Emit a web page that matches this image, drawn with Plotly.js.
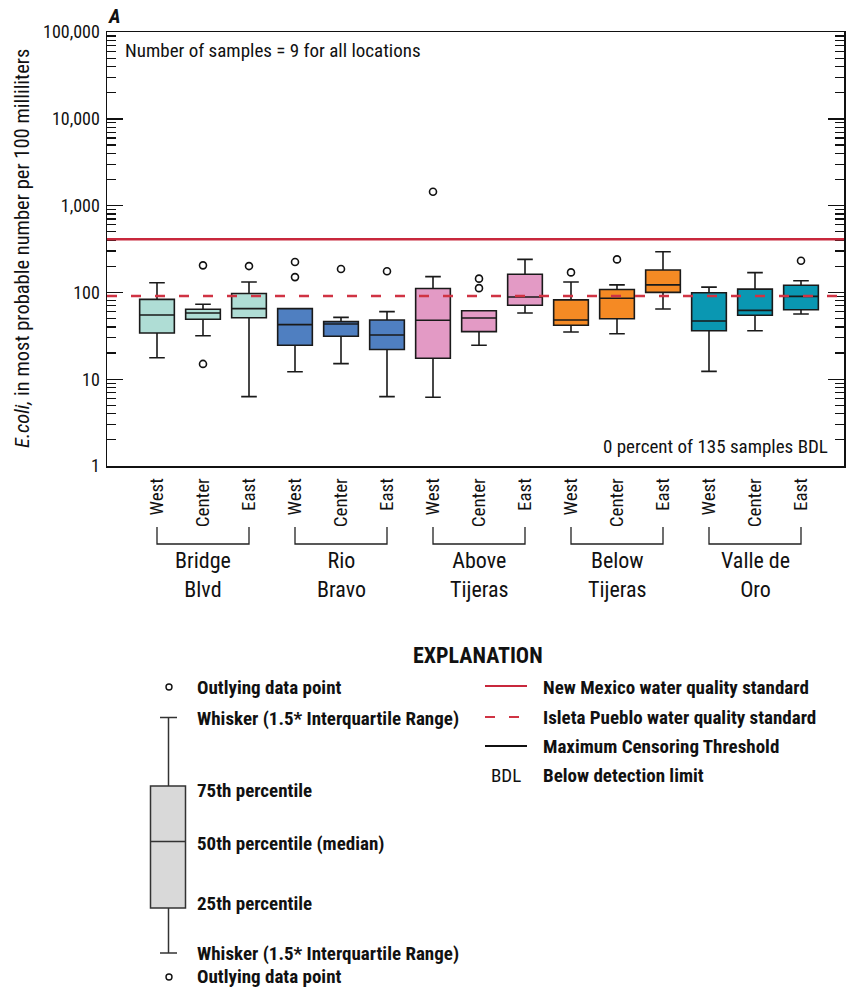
<!DOCTYPE html>
<html>
<head>
<meta charset="utf-8">
<script src="https://cdn.plot.ly/plotly-3.0.1.min.js"></script>
<style>
  html, body { margin: 0; padding: 0; background: #fff; }
  #chart { width: 846px; height: 990px; }
</style>
</head>
<body>
<div id="chart"></div>
<script>
// E. coli concentrations by sampling location and transect position
const sites = ['Bridge<br>Blvd', 'Rio<br>Bravo', 'Above<br>Tijeras', 'Below<br>Tijeras', 'Valle de<br>Oro'];
const positions = ['West', 'Center', 'East'];
const siteColors = ['#afddd5', '#4f7fc1', '#e39ac5', '#f58a24', '#0a97b2'];

// Box statistics, one entry per site/position (West, Center, East for each site)
const lowerWhisker = [17.7, 31.7, 6.3,  12.2, 15.1, 6.3,  6.2,  24.6, 58,   35,  33.4, 64.4,  12.3, 36.2, 56.4];
const q1Values     = [34,   49,   51,   24.6, 31.2, 22,   17.4, 35.3, 71,   41.8, 49.8, 100,  36.2, 54.5, 63];
const medianValues = [55,   58,   65,   42.5, 43.3, 32.3, 47.7, 50.7, 88.5, 48,  85.5, 122,   46.9, 62,   90];
const q3Values     = [83,   64,   97,   65,   46,   48,   111,  61.5, 162,  82,  108,  181,   99,   109,  121];
const upperWhisker = [129,  73,   132,  65,   51.6, 60,   152,  61.5, 240,  132, 122,  294,   115,  169,  136];

// Outlying data points: location index and value
const outlierIndex = [1,   1,  2,   3,   3,   4,   5,   6,    7,   7,   9,   10,  14];
const outlierValue = [205, 15, 201, 224, 150, 186, 175, 1446, 144, 112, 170, 240, 232];

// Water quality standards
const NM_STANDARD = 410;
const ISLETA_STANDARD = 91;

const yTickVals = [1, 10, 100, 1000, 10000, 100000];
const yTickText = ['1', '10', '100', '1,000', '10,000', '100,000'];

const FONT = 'Liberation Sans Narrow, Roboto Condensed, DejaVu Sans Condensed, Arial Narrow, sans-serif';

// Plot geometry (pixels)
const W = 846, H = 990;
const M = { l: 107, r: 2, t: 32, b: 524 };
const PW = W - M.l - M.r, PH = H - M.t - M.b;
const px = x => (x - M.l) / PW;
const py = y => (H - M.b - y) / PH;

const nLoc = sites.length * positions.length;
const locIdx = Array.from({ length: nLoc }, (_, i) => i);
const tickText = locIdx.map(i => positions[i % 3]);

const traces = sites.map((s, g) => {
  const idx = [3 * g, 3 * g + 1, 3 * g + 2];
  return {
    type: 'box',
    x: idx,
    q1: idx.map(i => q1Values[i]),
    median: idx.map(i => medianValues[i]),
    q3: idx.map(i => q3Values[i]),
    lowerfence: idx.map(i => lowerWhisker[i]),
    upperfence: idx.map(i => upperWhisker[i]),
    boxpoints: false,
    width: 0.754,
    whiskerwidth: 0.45,
    fillcolor: siteColors[g],
    line: { color: '#1a1a1a', width: 1.6 },
    hoverinfo: 'skip',
    showlegend: false
  };
});

traces.push({
  type: 'scatter',
  mode: 'markers',
  x: outlierIndex,
  y: outlierValue,
  marker: { symbol: 'circle-open', size: 7, color: '#111', line: { width: 1.6, color: '#111' } },
  hoverinfo: 'skip',
  showlegend: false
});

const shapes = [];
const annotations = [];

// Standards lines
shapes.push({ type: 'line', xref: 'paper', yref: 'y', x0: 0, x1: 1,
  y0: NM_STANDARD, y1: NM_STANDARD,
  line: { color: '#c8283c', width: 2.5 } });
shapes.push({ type: 'line', xref: 'paper', yref: 'y', x0: 0, x1: 1,
  y0: ISLETA_STANDARD, y1: ISLETA_STANDARD,
  line: { color: '#d03343', width: 2.5, dash: '10px,14px' } });

// Site brackets and names under the position labels
sites.forEach((s, g) => {
  const a = 3 * g, b = 3 * g + 2;
  shapes.push({ type: 'path', xref: 'x', yref: 'paper',
    path: `M ${a} ${py(527)} L ${a} ${py(544)} L ${b} ${py(544)} L ${b} ${py(527)}`,
    line: { color: '#222', width: 1.3 } });
  annotations.push({ xref: 'x', yref: 'paper', x: 3 * g + 1, y: py(546), yanchor: 'top',
    text: s, showarrow: false, align: 'center',
    font: { family: FONT, size: 22, color: '#111' } });
});

// Panel letter and notes
annotations.push({ xref: 'paper', yref: 'paper', x: px(106), y: py(16), xanchor: 'left', yanchor: 'middle',
  text: '<b><i>A</i></b>', showarrow: false, font: { family: FONT, size: 20, color: '#111' } });
annotations.push({ xref: 'paper', yref: 'paper', x: px(123), y: py(51), xanchor: 'left', yanchor: 'middle',
  text: 'Number of samples = 9 for all locations', showarrow: false,
  font: { family: FONT, size: 19, color: '#111' } });
annotations.push({ xref: 'paper', yref: 'paper', x: px(830), y: py(446), xanchor: 'right', yanchor: 'middle',
  text: '0 percent of 135 samples BDL', showarrow: false,
  font: { family: FONT, size: 19, color: '#111' } });

// Y axis title
annotations.push({ xref: 'paper', yref: 'paper', x: px(22), y: py(249), xanchor: 'center', yanchor: 'middle',
  textangle: -90, showarrow: false,
  text: '<i>E.coli,</i> in most probable number per 100 milliliters',
  font: { family: FONT, size: 20.5, color: '#111' } });

// Explanation
const legFont = { family: FONT, size: 19, color: '#111' };
const legText = (x, y, t) => annotations.push({ xref: 'paper', yref: 'paper',
  x: px(x), y: py(y), xanchor: 'left', yanchor: 'middle', text: t, showarrow: false, font: legFont });

annotations.push({ xref: 'paper', yref: 'paper', x: px(478), y: py(655), xanchor: 'center', yanchor: 'middle',
  text: '<b>EXPLANATION</b>', showarrow: false, font: { family: FONT, size: 22, color: '#111' } });

const circ = (cx, cy) => shapes.push({ type: 'circle', xref: 'paper', yref: 'paper',
  xsizemode: 'pixel', ysizemode: 'pixel', xanchor: px(cx), yanchor: py(cy),
  x0: -3, x1: 3, y0: -3, y1: 3, line: { color: '#111', width: 1.4 } });
const seg = (x0, y0, x1, y1, color, width, dash) => shapes.push({ type: 'line', xref: 'paper', yref: 'paper',
  x0: px(x0), y0: py(y0), x1: px(x1), y1: py(y1), line: { color, width, dash: dash || 'solid' } });

circ(169, 687);
circ(169, 977);
seg(160, 717.5, 177, 717.5, '#333', 1.5);
seg(168.5, 717.5, 168.5, 786, '#333', 1.5);
seg(168.5, 908, 168.5, 953, '#333', 1.5);
seg(160, 953, 177, 953, '#333', 1.5);
shapes.push({ type: 'rect', xref: 'paper', yref: 'paper', x0: px(150.5), x1: px(185.5), y0: py(908), y1: py(786),
  fillcolor: '#d9d9d9', line: { color: '#333', width: 1.5 } });
seg(150.5, 841.5, 185.5, 841.5, '#333', 1.5);

legText(195, 687, '<b>Outlying data point</b>');
legText(195, 718, '<b>Whisker (1.5* Interquartile Range)</b>');
legText(195, 790, '<b>75th percentile</b>');
legText(195, 843, '<b>50th percentile (median)</b>');
legText(195, 904, '<b>25th percentile</b>');
legText(195, 953, '<b>Whisker (1.5* Interquartile Range)</b>');
legText(195, 976, '<b>Outlying data point</b>');

seg(485, 686, 527, 686, '#c8283c', 2);
seg(485, 717, 519, 717, '#d03343', 2, '10px,14px');
seg(485, 746, 527, 746, '#111', 2);
legText(541, 687, '<b>New Mexico water quality standard</b>');
legText(541, 717, '<b>Isleta Pueblo water quality standard</b>');
legText(541, 746, '<b>Maximum Censoring Threshold</b>');
legText(489, 775, 'BDL');
legText(541, 775, '<b>Below detection limit</b>');

const minorVals = [];
for (let d = 1; d < 100000; d *= 10) for (let k = 2; k <= 9; k++) minorVals.push(k * d);

const layout = {
  width: W, height: H,
  margin: M,
  paper_bgcolor: '#fff', plot_bgcolor: '#fff',
  font: { family: FONT, size: 17, color: '#111' },
  showlegend: false,
  boxmode: 'overlay',
  xaxis: {
    range: [(M.l - 157) / 46, (W - M.r - 157) / 46],
    tickvals: locIdx, ticktext: tickText,
    tickangle: -90, ticks: '', showgrid: false, zeroline: false,
    showline: true, linecolor: '#111', linewidth: 1.5, mirror: true,
    tickfont: { family: FONT, size: 19, color: '#111' },
    ticklabelstandoff: 3
  },
  yaxis: {
    type: 'log', range: [0, 5],
    tickvals: yTickVals, ticktext: yTickText,
    ticks: 'inside', ticklen: 16, tickwidth: 1.4, tickcolor: '#111',
    showgrid: false, zeroline: false,
    showline: true, linecolor: '#111', linewidth: 1.5, mirror: 'ticks',
    tickfont: { family: FONT, size: 18, color: '#111' },
    ticklabelstandoff: 2,
    minor: { tickvals: minorVals, ticks: 'inside', ticklen: 9, tickwidth: 1.2, tickcolor: '#111', showgrid: false }
  },
  shapes, annotations
};

Plotly.newPlot('chart', traces, layout, { staticPlot: true, displayModeBar: false });
</script>
</body>
</html>
